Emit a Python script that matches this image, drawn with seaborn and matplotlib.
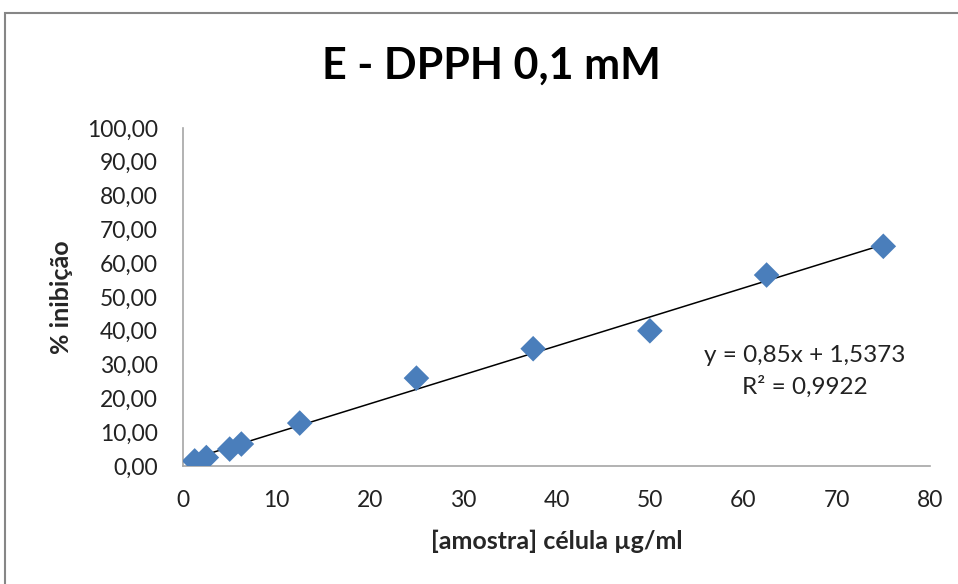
import matplotlib
matplotlib.use("Agg")
import matplotlib.pyplot as plt
import seaborn as sns
import pandas as pd
from matplotlib.patches import Rectangle

# Data
concentracao = [1.25, 2.5, 5.0, 6.25, 12.5, 25.0, 37.5, 50.0, 62.5, 75.0]
inibicao = [1.5, 2.5, 5.0, 6.5, 12.7, 26.0, 34.7, 40.0, 56.5, 65.0]
x_ticks = [0, 10, 20, 30, 40, 50, 60, 70, 80]
y_ticks = [0, 10, 20, 30, 40, 50, 60, 70, 80, 90, 100]
y_tick_labels = ["0,00", "10,00", "20,00", "30,00", "40,00", "50,00",
                 "60,00", "70,00", "80,00", "90,00", "100,00"]
title = "E - DPPH 0,1 mM"
x_label = "[amostra] célula µg/ml"
y_label = "% inibição"
eq_text = "y = 0,85x + 1,5373"
r2_text = "R² = 0,9922"

df = pd.DataFrame({"x": concentracao, "y": inibicao})

sns.set_theme(style="white")
plt.rcParams["font.family"] = ["Lato", "DejaVu Sans"]

fig = plt.figure(figsize=(9.58, 5.84), dpi=100)
ax = fig.add_axes([183 / 958, 1 - 466 / 584, (930 - 183) / 958, (466 - 128) / 584])

sns.regplot(data=df, x="x", y="y", ax=ax, scatter=False, ci=None,
            line_kws={"color": "black", "lw": 1.1}, truncate=True)
sns.scatterplot(data=df, x="x", y="y", ax=ax, marker="D", s=170,
                color="#4A7EBB", edgecolor="none", zorder=3)

ax.set_xlim(0, 80)
ax.set_ylim(0, 100)
ax.set_xticks(x_ticks)
ax.set_xticklabels([str(t) for t in x_ticks])
ax.set_yticks(y_ticks)
ax.set_yticklabels(y_tick_labels)
ax.tick_params(axis="y", length=0, labelsize=16.5, pad=18)
ax.tick_params(axis="x", length=0, labelsize=16.5, pad=17)
for lbl in ax.get_xticklabels() + ax.get_yticklabels():
    lbl.set_color("#222222")

for side in ["top", "right"]:
    ax.spines[side].set_visible(False)
for side in ["left", "bottom"]:
    ax.spines[side].set_color("#A6A6A6")
    ax.spines[side].set_linewidth(1.2)

ax.set_xlabel(x_label, fontsize=18, fontweight="bold", labelpad=14)
ax.set_ylabel(y_label, fontsize=18, fontweight="bold", labelpad=10)

ax.text(66.6, 32.8, eq_text, ha="center", va="center", fontsize=17.5, color="#222222")
ax.text(66.6, 23.4, r2_text, ha="center", va="center", fontsize=17.5, color="#222222")

fig.text(491 / 958, 1 - 66 / 584, title, ha="center", va="center",
         fontsize=31, fontweight="bold", color="black")

fig.patches.append(Rectangle((5 / 958, -0.1), 1.2, 1 - 13 / 584 + 0.1,
                             transform=fig.transFigure, fill=False,
                             edgecolor="#868686", linewidth=1.5))

fig.savefig("out.png", dpi=100)
